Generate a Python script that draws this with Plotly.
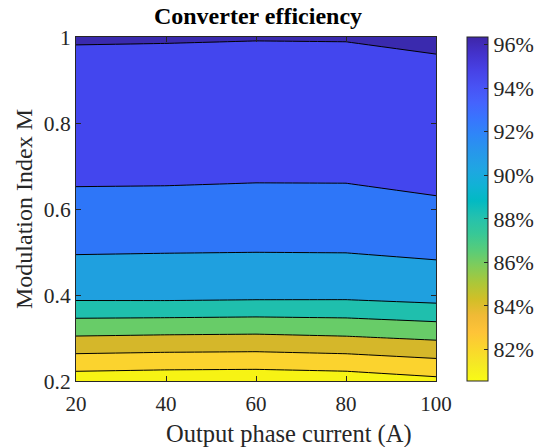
import plotly.graph_objects as go

# ---- data ----
current_A = [20, 40, 60, 80, 100]
modulation_M = [0.2, 0.3, 0.4, 0.5, 0.6, 0.7, 0.8, 0.9, 1.0]

# efficiency in %, one list per modulation index row, columns follow current_A
eff_M02 = [79.90, 79.73, 79.68, 79.88, 80.53]
eff_M03 = [84.78, 84.63, 84.55, 84.80, 85.24]
eff_M04 = [89.62, 89.65, 89.55, 89.51, 89.88]
eff_M05 = [91.09, 91.04, 91.01, 91.03, 91.25]
eff_M06 = [92.60, 92.60, 92.55, 92.55, 92.70]
eff_M07 = [93.37, 93.34, 93.29, 93.30, 93.67]
eff_M08 = [94.00, 94.00, 93.95, 93.95, 94.10]
eff_M09 = [94.60, 94.60, 94.60, 94.60, 94.50]
eff_M10 = [95.09, 95.07, 95.04, 95.05, 95.33]

x_ticks = [20, 40, 60, 80, 100]
y_ticks = [0.2, 0.4, 0.6, 0.8, 1.0]
y_tick_text = ["0.2", "0.4", "0.6", "0.8", "1"]
cbar_ticks = [82, 84, 86, 88, 90, 92, 94, 96]
cbar_tick_text = ["82%", "84%", "86%", "88%", "90%", "92%", "94%", "96%"]

# contour levels
level_start, level_end, level_step = 81, 95, 2

# ---- styles ----
band_colors = ["#F7F314", "#FBD32E", "#D5B72A", "#68CC68", "#1FBFAD",
               "#1FA0DF", "#2E76F8", "#4346EE", "#3A2AAE"]
parula = [
    (0.2422, 0.1504, 0.6603), (0.2647, 0.1978, 0.7952), (0.2783, 0.2559, 0.8991),
    (0.2810, 0.3228, 0.9579), (0.2699, 0.3892, 0.9906), (0.2206, 0.4603, 0.9973),
    (0.1786, 0.5289, 0.9682), (0.1540, 0.5902, 0.9218), (0.1248, 0.6459, 0.8883),
    (0.0689, 0.6948, 0.8394), (0.0067, 0.7312, 0.7660), (0.1408, 0.7584, 0.6842),
    (0.2161, 0.7843, 0.5923), (0.3406, 0.8008, 0.4789), (0.5044, 0.7993, 0.3480),
    (0.6720, 0.7793, 0.2227), (0.8203, 0.7498, 0.1535), (0.9393, 0.7288, 0.2100),
    (0.9970, 0.7659, 0.2199), (0.9786, 0.8386, 0.1766), (0.9597, 0.9135, 0.1423),
    (0.9769, 0.9839, 0.0805),
]
cbar_min, cbar_max = 80.55, 96.35

FONT = "Liberation Serif"
AX_COLOR = "#262626"

z = [eff_M02, eff_M03, eff_M04, eff_M05, eff_M06, eff_M07, eff_M08, eff_M09, eff_M10]

n = len(band_colors) - 1
fill_scale = [[k / n, c] for k, c in enumerate(band_colors)]

np_ = len(parula) - 1
parula_r = []
for i, (r, g, b) in enumerate(parula):
    parula_r.append([1 - i / np_, "rgb(%d,%d,%d)" % (round(r * 255), round(g * 255), round(b * 255))])
parula_r.sort(key=lambda s: s[0])

fig = go.Figure()
fig.add_trace(go.Contour(
    x=current_A, y=modulation_M, z=z,
    autocontour=False,
    contours=dict(start=level_start, end=level_end, size=level_step, coloring="fill"),
    colorscale=fill_scale,
    line=dict(color="black", width=1, smoothing=0),
    showscale=False,
    hoverinfo="x+y+z",
))

# continuous colorbar (parula, reversed)
fig.add_trace(go.Scatter(
    x=[None], y=[None], mode="markers", hoverinfo="skip", showlegend=False,
    marker=dict(
        color=[cbar_min], cmin=cbar_min, cmax=cbar_max, colorscale=parula_r,
        showscale=True,
        colorbar=dict(
            x=(467 - 76) / 360, xanchor="left", xpad=0, ypad=0,
            y=0.5, yanchor="middle", len=1, lenmode="fraction",
            thickness=21, thicknessmode="pixels",
            outlinewidth=1, outlinecolor=AX_COLOR,
            tickvals=cbar_ticks, ticktext=cbar_tick_text,
            ticks="inside", ticklen=4, tickcolor=AX_COLOR,
            tickfont=dict(family=FONT, size=22, color=AX_COLOR),
        ),
    ),
))

fig.update_layout(
    width=534, height=447,
    margin=dict(l=76, r=98, t=37, b=66, autoexpand=False),
    paper_bgcolor="white", plot_bgcolor="white",
    showlegend=False,
    title=dict(text="Converter efficiency", x=258 / 534, xanchor="center",
               y=1 - 16 / 447, yanchor="middle", yref="container",
               font=dict(family=FONT, size=24, color="black", weight="bold")),
    font=dict(family=FONT, color=AX_COLOR),
    annotations=[dict(
        text="Output phase current (A)", xref="paper", yref="paper",
        x=(289 - 76) / 360, y=-(434 - 381) / 344, xanchor="center", yanchor="middle",
        showarrow=False, font=dict(family=FONT, size=24.5, color=AX_COLOR),
    )],
)
fig.update_xaxes(
    range=[20, 100], tickvals=x_ticks,
    ticks="inside", ticklen=5, tickcolor=AX_COLOR, showline=True, linecolor=AX_COLOR,
    linewidth=1, mirror="ticks", showgrid=False, zeroline=False,
    ticklabelstandoff=4,
    tickfont=dict(family=FONT, size=21, color=AX_COLOR),
)
fig.update_yaxes(
    range=[0.2, 1.0], tickvals=y_ticks, ticktext=y_tick_text,
    ticks="inside", ticklen=5, tickcolor=AX_COLOR, showline=True, linecolor=AX_COLOR,
    linewidth=1, mirror="ticks", showgrid=False, zeroline=False,
    tickfont=dict(family=FONT, size=21.5, color=AX_COLOR),
    title=dict(text="Modulation Index M", standoff=4,
               font=dict(family=FONT, size=24, color=AX_COLOR)),
)

fig.write_html("out.html")
